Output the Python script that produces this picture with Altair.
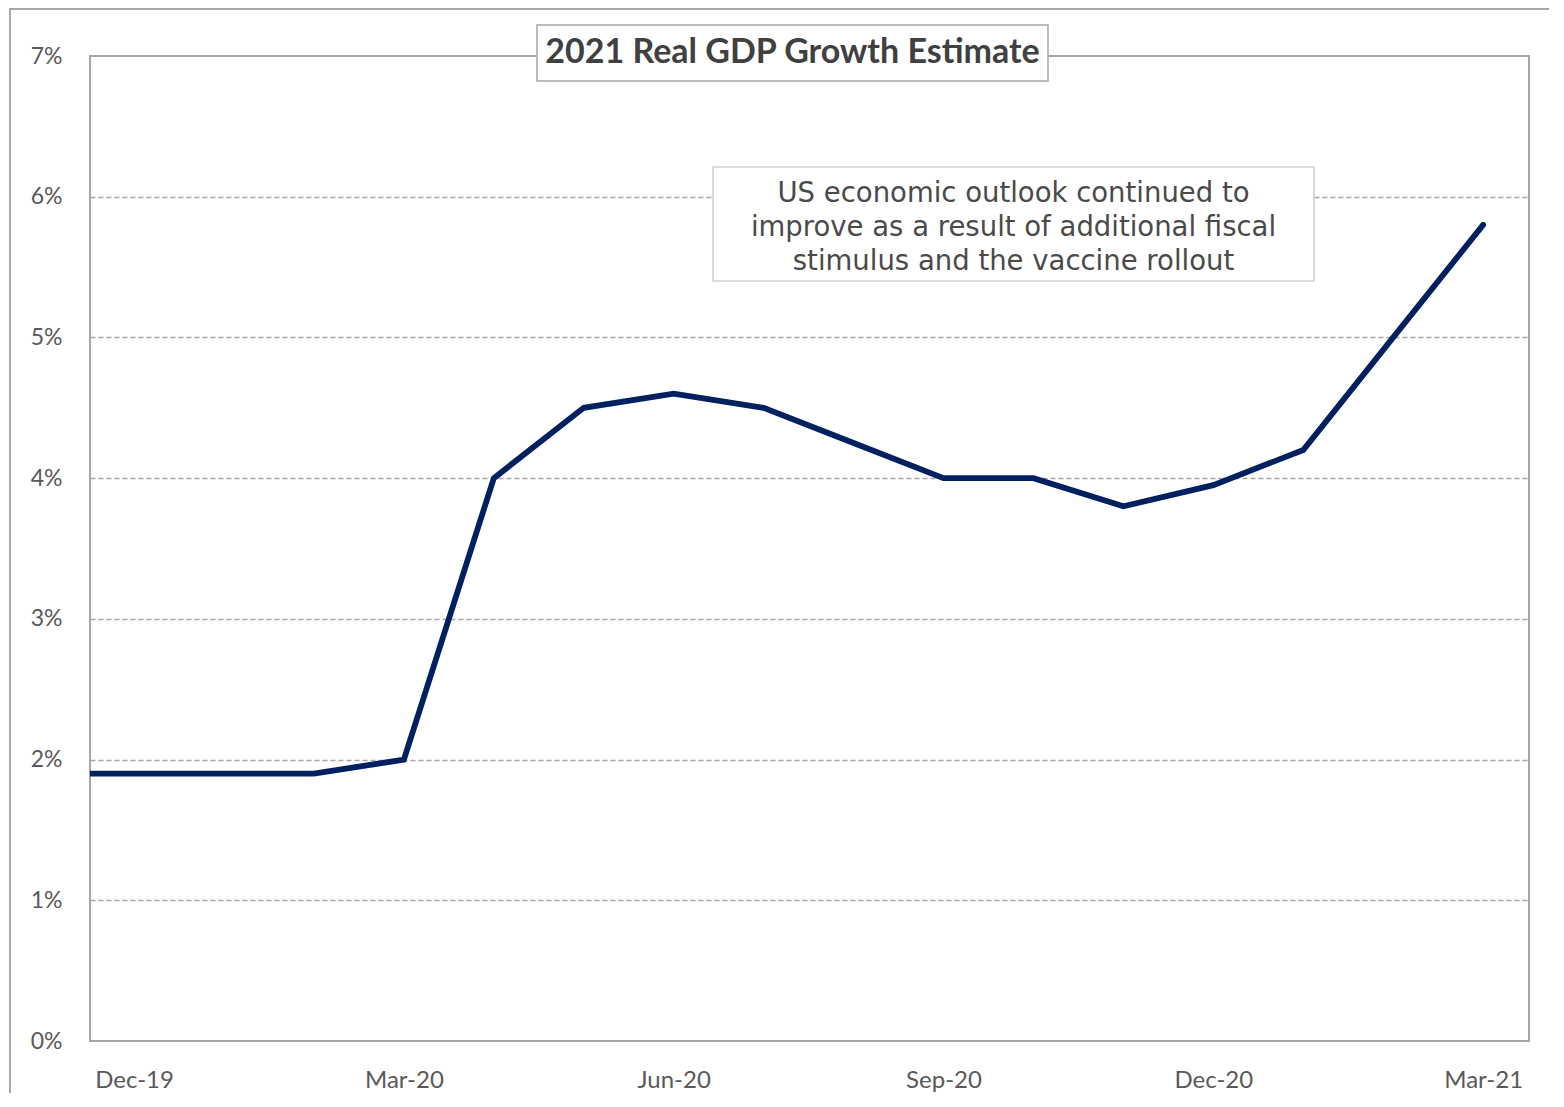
import altair as alt
import pandas as pd

# ---- data ----
months = ["Nov-19", "Dec-19", "Jan-20", "Feb-20", "Mar-20", "Apr-20", "May-20", "Jun-20",
          "Jul-20", "Aug-20", "Sep-20", "Oct-20", "Nov-20", "Dec-20", "Jan-21", "Feb-21", "Mar-21"]
growth = [1.9, 1.9, 1.9, 1.9, 2.0, 4.0, 4.5, 4.6, 4.5, 4.25, 4.0, 4.0, 3.8, 3.95, 4.2, 5.0, 5.8]

x_tick_pos = [0, 3, 6, 9, 12, 15]
x_tick_labels = ["Dec-19", "Mar-20", "Jun-20", "Sep-20", "Dec-20", "Mar-21"]
y_ticks = [0, 1, 2, 3, 4, 5, 6, 7]

title_text = "2021 Real GDP Growth Estimate"
note_lines = ["US economic outlook continued to",
              "improve as a result of additional fiscal",
              "stimulus and the vaccine rollout"]

df = pd.DataFrame({"idx": list(range(-1, len(months) - 1)), "month": months, "growth": growth})

W, H = 1439, 985
GRAY_TXT = "#595959"
label_arr = "[" + ",".join("'" + l + "'" for l in x_tick_labels) + "]"

x_scale = alt.Scale(domain=[-0.49, 15.51], nice=False, zero=False)
y_scale = alt.Scale(domain=[0, 7], nice=False, zero=False)

line = alt.Chart(df).mark_line(
    color="#002060", strokeWidth=5.8, clip=True, strokeCap="round"
).encode(
    x=alt.X("idx:Q", scale=x_scale,
            axis=alt.Axis(values=x_tick_pos, labelExpr=label_arr + "[datum.value/3]",
                          title=None, grid=False, domain=False, ticks=False, tickSize=0,
                          labelPadding=27, labelFontSize=24, labelFont="Lato",
                          labelColor=GRAY_TXT, labelFlush=False, labelOverlap=False)),
    y=alt.Y("growth:Q", scale=y_scale,
            axis=alt.Axis(values=y_ticks, labelExpr="datum.value + '%'",
                          title=None, grid=True,
                          gridColor={"condition": {"test": "datum.value > 0 && datum.value < 7",
                                                   "value": "#a8a8a8"},
                                     "value": "transparent"},
                          gridDash=[5, 3], gridWidth=1.5,
                          domain=False, ticks=False, tickSize=0,
                          labelPadding=28, labelFontSize=23, labelFont="Lato",
                          labelColor=GRAY_TXT, labelAlign="right", labelBaseline="middle")),
)

one = pd.DataFrame({"t": [title_text]})

outer = alt.Chart(one).mark_rect(
    fill="transparent", stroke="#a8a8a8", strokeWidth=2
).encode(x=alt.value(-80), x2=alt.value(1490), y=alt.value(-47), y2=alt.value(1100))

note_box = alt.Chart(one).mark_rect(
    fill="white", stroke="#bdbdbd", strokeWidth=1.2
).encode(x=alt.value(623), x2=alt.value(1224), y=alt.value(111), y2=alt.value(225))

note_text = alt.Chart(one).mark_text(
    text=note_lines, font="DejaVu Sans", fontSize=27.5, color="#4a4a4a",
    align="center", baseline="middle", lineHeight=34
).encode(x=alt.value(923.5), y=alt.value(138))

title_box = alt.Chart(one).mark_rect(
    fill="white", stroke="#a6a6a6", strokeWidth=1.5
).encode(x=alt.value(447), x2=alt.value(958), y=alt.value(-31), y2=alt.value(25))

title = alt.Chart(one).mark_text(
    font="Lato", fontWeight="bold", fontSize=34, color="#404040",
    align="center", baseline="middle"
).encode(x=alt.value(702.5), y=alt.value(-3), text="t:N")

chart = alt.layer(outer, line, note_box, note_text, title_box, title).properties(
    width=W, height=H,
    autosize=alt.AutoSizeParams(type="none"),
    padding={"left": 82, "top": 48, "right": 20, "bottom": 52},
    background="white",
).configure_view(stroke="#a6a6a6", strokeWidth=2)

chart.save("out.html", embed_options={"renderer": "svg", "actions": False})
